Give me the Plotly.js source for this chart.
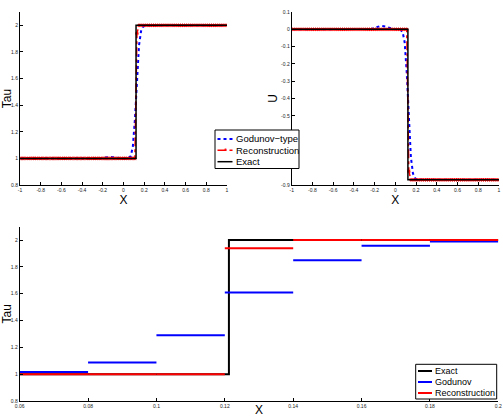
<!DOCTYPE html>
<html>
<head>
<meta charset="utf-8">
<script src="https://cdn.plot.ly/plotly-3.0.1.min.js"></script>
<style>html,body{margin:0;padding:0;background:#fff;}#chart{width:503px;height:417px;}</style>
</head>
<body>
<div id="chart"></div>
<script>
// ---- data (cell centres of a 100-cell grid on [-1,1]) ----
var xCells = [
-0.99,-0.97,-0.95,-0.93,-0.91,-0.89,-0.87,-0.85,-0.83,-0.81,
-0.79,-0.77,-0.75,-0.73,-0.71,-0.69,-0.67,-0.65,-0.63,-0.61,
-0.59,-0.57,-0.55,-0.53,-0.51,-0.49,-0.47,-0.45,-0.43,-0.41,
-0.39,-0.37,-0.35,-0.33,-0.31,-0.29,-0.27,-0.25,-0.23,-0.21,
-0.19,-0.17,-0.15,-0.13,-0.11,-0.09,-0.07,-0.05,-0.03,-0.01,
0.01,0.03,0.05,0.07,0.09,0.11,0.13,0.15,0.17,0.19,
0.21,0.23,0.25,0.27,0.29,0.31,0.33,0.35,0.37,0.39,
0.41,0.43,0.45,0.47,0.49,0.51,0.53,0.55,0.57,0.59,
0.61,0.63,0.65,0.67,0.69,0.71,0.73,0.75,0.77,0.79,
0.81,0.83,0.85,0.87,0.89,0.91,0.93,0.95,0.97,0.99];

var tauGodunov = [
1,1,1,1,1,1,1,1,1,1,
1,1,1,1,1,1,1,1,1,1,
1,1,1,1,1,1,1,1,1,1,
1,1,1,1,1,1,1,1,1,1.002,
1.006,1.009,1.01,1.01,1.009,1.007,1.004,1.002,1.001,1,
1,1.001,1.004,1.017,1.087,1.29,1.61,1.85,1.957,1.99,
1.998,2,2,2,2,2,2,2,2,2,
2,2,2,2,2,2,2,2,2,2,
2,2,2,2,2,2,2,2,2,2,
2,2,2,2,2,2,2,2,2,2];

var tauRecon = [
1,1,1,1,1,1,1,1,1,1,
1,1,1,1,1,1,1,1,1,1,
1,1,1,1,1,1,1,1,1,1,
1,1,1,1,1,1,1,1,1,1,
1,1,1,1,1,1,1,1,1,1,
1,1,1,1,1,1,1.94,2,2,2,
2,2,2,2,2,2,2,2,2,2,
2,2,2,2,2,2,2,2,2,2,
2,2,2,2,2,2,2,2,2,2,
2,2,2,2,2,2,2,2,2,2];

var uGodunov = [
0,0,0,0,0,0,0,0,0,0,
0,0,0,0,0,0,0,0,0,0,
0,0,0,0,0,0,0,0,0,0,
0,0,0,0,0,0,0,0,0.002,0.006,
0.011,0.015,0.018,0.019,0.018,0.015,0.011,0.007,0.003,0.001,
0,-0.001,-0.004,-0.015,-0.076,-0.252,-0.53,-0.74,-0.833,-0.861,
-0.868,-0.87,-0.87,-0.87,-0.87,-0.87,-0.87,-0.87,-0.87,-0.87,
-0.87,-0.87,-0.87,-0.87,-0.87,-0.87,-0.87,-0.87,-0.87,-0.87,
-0.87,-0.87,-0.87,-0.87,-0.87,-0.87,-0.87,-0.87,-0.87,-0.87,
-0.87,-0.87,-0.87,-0.87,-0.87,-0.87,-0.87,-0.87,-0.87,-0.87];

var uRecon = [
0,0,0,0,0,0,0,0,0,0,
0,0,0,0,0,0,0,0,0,0,
0,0,0,0,0,0,0,0,0,0,
0,0,0,0,0,0,0,0,0,0,
0,0,0,0,0,0,0,0,0,0,
0,0,0,0,0,0,-0.82,-0.87,-0.87,-0.87,
-0.87,-0.87,-0.87,-0.87,-0.87,-0.87,-0.87,-0.87,-0.87,-0.87,
-0.87,-0.87,-0.87,-0.87,-0.87,-0.87,-0.87,-0.87,-0.87,-0.87,
-0.87,-0.87,-0.87,-0.87,-0.87,-0.87,-0.87,-0.87,-0.87,-0.87,
-0.87,-0.87,-0.87,-0.87,-0.87,-0.87,-0.87,-0.87,-0.87,-0.87];

// exact solution (single jump)
var exactX = [-1, 0.1212, 0.1212, 1];
var tauExact = [1, 1, 2, 2];
var uExact = [0, 0, -0.87, -0.87];

// zoom window: cell edges and cell values (cells 0.06..0.2)
var zoomEdges = [0.06, 0.08, 0.1, 0.12, 0.14, 0.16, 0.18, 0.2];
var zoomFirstCell = 53;
var zoomExactX = [0.06, 0.1212, 0.1212, 0.2];

// ticks (labels hidden behind the legend box are left empty)
var topXTicks = [-1,-0.8,-0.6,-0.4,-0.2,0,0.2,0.4,0.6,0.8,1];
var topXLabels = ["-1","-0.8","-0.6","-0.4","-0.2","0","0.2","0.4","0.6","0.8","1"];
var tauTicks = [0.8,1,1.2,1.4,1.6,1.8,2];
var tauLabels = ["0.8","1","1.2","1.4","1.6","1.8","2"];
var uTicks = [-0.9,-0.8,-0.7,-0.6,-0.5,-0.4,-0.3,-0.2,-0.1,0,0.1];
var uLabels = ["-0.9","","","","-0.5","-0.4","-0.3","-0.2","-0.1","0","0.1"];
var botXTicks = [0.06,0.08,0.1,0.12,0.14,0.16,0.18,0.2];
var botXLabels = ["0.06","0.08","0.1","0.12","0.14","0.16","0.18","0.2"];

// build piecewise-constant cell segments
function cellSegments(vals) {
  var xs = [], ys = [];
  for (var k = 0; k < zoomEdges.length - 1; k++) {
    var v = vals[zoomFirstCell + k];
    xs.push(zoomEdges[k], zoomEdges[k+1], null);
    ys.push(v, v, null);
  }
  return {x: xs, y: ys};
}
var godSeg = cellSegments(tauGodunov);
var recSeg = cellSegments(tauRecon);

var BLUE = '#0000ff', RED = '#ff0000', BLACK = '#000000';

var traces = [
  {x: xCells, y: tauGodunov, xaxis:'x', yaxis:'y', mode:'lines', name:'Godunov−type',
   line:{color:BLUE, width:2, dash:'dot'}},
  {x: xCells, y: tauRecon, xaxis:'x', yaxis:'y', mode:'lines+markers', name:'Reconstruction',
   line:{color:RED, width:1.5, dash:'dashdot'}, marker:{symbol:'asterisk-open', size:3, color:RED, line:{color:RED, width:1}}},
  {x: exactX, y: tauExact, xaxis:'x', yaxis:'y', mode:'lines', name:'Exact',
   line:{color:BLACK, width:1.5}},

  {x: xCells, y: uGodunov, xaxis:'x2', yaxis:'y2', mode:'lines', name:'Godunov−type',
   line:{color:BLUE, width:2, dash:'dot'}},
  {x: xCells, y: uRecon, xaxis:'x2', yaxis:'y2', mode:'lines+markers', name:'Reconstruction',
   line:{color:RED, width:1.5, dash:'dashdot'}, marker:{symbol:'asterisk-open', size:3, color:RED, line:{color:RED, width:1}}},
  {x: exactX, y: uExact, xaxis:'x2', yaxis:'y2', mode:'lines', name:'Exact',
   line:{color:BLACK, width:1.5}},

  {x: zoomExactX, y: tauExact, xaxis:'x3', yaxis:'y3', mode:'lines', name:'Exact',
   line:{color:BLACK, width:2}},
  {x: godSeg.x, y: godSeg.y, xaxis:'x3', yaxis:'y3', mode:'lines', name:'Godunov',
   line:{color:BLUE, width:2}, connectgaps:false},
  {x: recSeg.x, y: recSeg.y, xaxis:'x3', yaxis:'y3', mode:'lines', name:'Reconstruction',
   line:{color:RED, width:2}, connectgaps:false}
];
traces.forEach(function(t){ t.showlegend = false; t.hoverinfo = 'skip'; });

var W = 503, H = 417;
function px(v){ return v / W; }
function py(v){ return 1 - v / H; }

var tickFont = {family:'Liberation Sans, Arial, sans-serif', size:5, color:'#222'};
var titleFont = {family:'Liberation Sans, Arial, sans-serif', size:12, color:'#000'};

function xAx(domain, ticks, labels, range, anchor) {
  return {domain:domain, range:range, anchor:anchor, tickmode:'array', tickvals:ticks, ticktext:labels,
    ticks:'inside', ticklen:3, tickwidth:1, tickcolor:'#000', showline:true, linecolor:'#000', linewidth:1,
    mirror:false, showgrid:false, zeroline:false, tickfont:tickFont, automargin:false,
    title:{text:'X', font:titleFont, standoff:0}};
}
function yAx(domain, ticks, labels, range, anchor, title) {
  return {domain:domain, range:range, anchor:anchor, tickmode:'array', tickvals:ticks, ticktext:labels,
    ticks:'inside', ticklen:3, tickwidth:1, tickcolor:'#000', showline:true, linecolor:'#000', linewidth:1,
    mirror:false, showgrid:false, zeroline:false, tickfont:tickFont, automargin:false,
    title:{text:title, font:titleFont, standoff:0}};
}

var legFont = {family:'Liberation Sans, Arial, sans-serif', size:9.5, color:'#000'};
var legFont2 = {family:'Liberation Sans, Arial, sans-serif', size:9, color:'#000'};

var shapes = [
  // top legend box
  {type:'rect', xref:'paper', yref:'paper', x0:px(215), x1:px(299), y0:py(168.5), y1:py(130),
   line:{color:'#000', width:1}, fillcolor:'#fff', layer:'above'},
  {type:'line', xref:'paper', yref:'paper', x0:px(217.5), x1:px(232.5), y0:py(139), y1:py(139),
   line:{color:BLUE, width:2, dash:'dot'}, layer:'above'},
  {type:'line', xref:'paper', yref:'paper', x0:px(217.5), x1:px(232.5), y0:py(150.3), y1:py(150.3),
   line:{color:RED, width:1.5, dash:'dashdot'}, layer:'above'},
  {type:'line', xref:'paper', yref:'paper', x0:px(217.5), x1:px(232.5), y0:py(161.7), y1:py(161.7),
   line:{color:BLACK, width:1.5}, layer:'above'},
  // bottom legend box
  {type:'rect', xref:'paper', yref:'paper', x0:px(415.7), x1:px(496.7), y0:py(399), y1:py(364.3),
   line:{color:'#000', width:1}, fillcolor:'#fff', layer:'above'},
  {type:'line', xref:'paper', yref:'paper', x0:px(418), x1:px(432), y0:py(371), y1:py(371),
   line:{color:BLACK, width:2}, layer:'above'},
  {type:'line', xref:'paper', yref:'paper', x0:px(418), x1:px(432), y0:py(382), y1:py(382),
   line:{color:BLUE, width:2}, layer:'above'},
  {type:'line', xref:'paper', yref:'paper', x0:px(418), x1:px(432), y0:py(393), y1:py(393),
   line:{color:RED, width:2}, layer:'above'}
];

function legText(x, y, t, f) {
  return {xref:'paper', yref:'paper', x:px(x), y:py(y), xanchor:'left', yanchor:'middle',
    text:t, showarrow:false, font:f};
}
var annotations = [
  legText(233.5, 139, 'Godunov−type', legFont),
  legText(233.5, 150.3, 'Reconstruction', legFont),
  legText(233.5, 161.7, 'Exact', legFont),
  {xref:'paper', yref:'paper', x:px(225), y:py(150.3), xanchor:'center', yanchor:'middle',
   text:'*', showarrow:false, font:{family:'Liberation Sans, Arial', size:8, color:RED}},
  legText(433.2, 371, 'Exact', legFont2),
  legText(433.2, 382, 'Godunov', legFont2),
  legText(433.2, 393, 'Reconstruction', legFont2)
];

var layout = {
  width: W, height: H,
  margin: {l:0, r:0, t:0, b:0},
  paper_bgcolor:'#fff', plot_bgcolor:'#fff',
  showlegend:false,
  xaxis: xAx([px(20), px(227)], topXTicks, topXLabels, [-1, 1], 'y'),
  yaxis: yAx([py(185), py(12)], tauTicks, tauLabels, [0.8, 2.1], 'x', 'Tau'),
  xaxis2: xAx([px(291.7), px(499)], topXTicks, topXLabels, [-1, 1], 'y2'),
  yaxis2: yAx([py(185), py(12)], uTicks, uLabels, [-0.9, 0.1], 'x2', 'U'),
  xaxis3: xAx([px(19.7), px(498.3)], botXTicks, botXLabels, [0.06, 0.2], 'y3'),
  yaxis3: yAx([py(401), py(226.7)], tauTicks, tauLabels, [0.8, 2.1], 'x3', 'Tau'),
  shapes: shapes,
  annotations: annotations
};

Plotly.newPlot('chart', traces, layout, {displayModeBar:false, staticPlot:true});
</script>
</body>
</html>
